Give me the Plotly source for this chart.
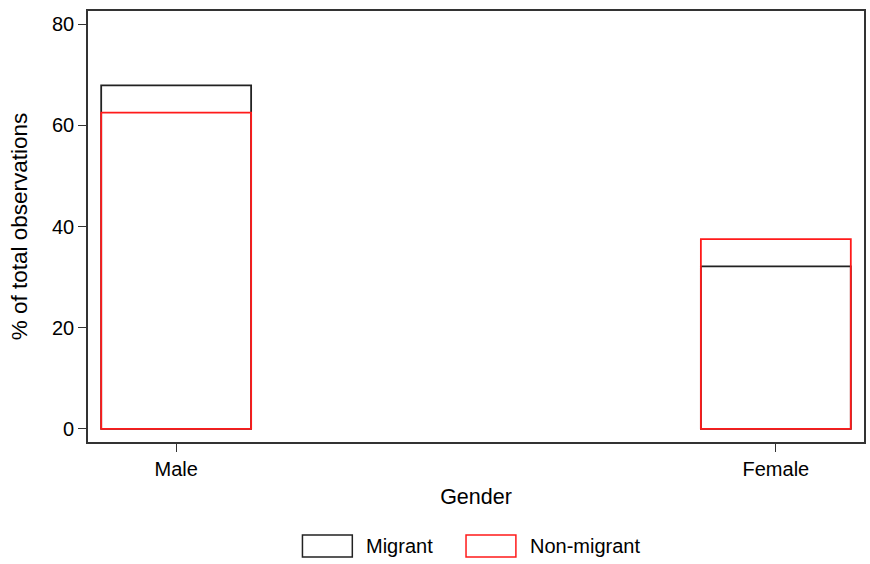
import plotly.graph_objects as go

categories = ["Male", "Female"]
migrant = [67.9, 32.1]
non_migrant = [62.5, 37.5]
series_names = ["Migrant", "Non-migrant"]
y_ticks = [0, 20, 40, 60, 80]

FONT = "Liberation Sans, Arial, Helvetica, sans-serif"

fig = go.Figure()
fig.add_trace(go.Bar(x=categories, y=migrant, name=series_names[0], width=0.25,
                     marker=dict(color="rgba(0,0,0,0)", line=dict(color="#222222", width=1.8)),
                     showlegend=False))
fig.add_trace(go.Bar(x=categories, y=non_migrant, name=series_names[1], width=0.25,
                     marker=dict(color="rgba(0,0,0,0)", line=dict(color="#ff1a1a", width=1.8)),
                     showlegend=False))

fig.update_layout(
    width=870, height=564,
    barmode="overlay",
    plot_bgcolor="white", paper_bgcolor="white",
    margin=dict(l=88, r=4, t=11, b=122),
    font=dict(family=FONT, size=20, color="black"),
    showlegend=False,
)
fig.update_xaxes(type="category", range=[-0.147, 1.147], showline=True, mirror=True,
                 linecolor="#333333", linewidth=1.6, ticks="outside", ticklen=8,
                 tickcolor="#333333", tickwidth=1.2, showgrid=False,
                 title=dict(text="Gender", font=dict(size=21.5), standoff=10),
                 tickfont=dict(size=20))
fig.update_yaxes(range=[-2.6, 82.6], tickvals=y_ticks, showline=True, mirror=True,
                 linecolor="#333333", linewidth=1.6, ticks="outside", ticklen=8,
                 tickcolor="#333333", tickwidth=1.2, showgrid=False, zeroline=False,
                 title=dict(text="% of total observations", font=dict(size=22.5), standoff=18),
                 tickfont=dict(size=20))

# legend drawn manually (wide rectangular keys)
PW, PH, PL, PB = 778, 431, 88, 442
legend_items = [(series_names[0], "#222222", 303, 353, 365), (series_names[1], "#ff1a1a", 467, 517, 529)]
for name, col, x0, x1, xt in legend_items:
    fig.add_shape(type="rect", xref="paper", yref="paper",
                  x0=(x0 - PL) / PW, x1=(x1 - PL) / PW,
                  y0=(PB - 557) / PH, y1=(PB - 535) / PH,
                  line=dict(color=col, width=1.5), fillcolor="white")
    fig.add_annotation(xref="paper", yref="paper", x=(xt - PL) / PW, y=(PB - 546) / PH,
                       text=name, showarrow=False, xanchor="left", yanchor="middle",
                       font=dict(size=20, family=FONT))

fig.write_html("out.html", config={"displayModeBar": False},
               post_script="document.body.style.margin='0';document.body.style.overflow='hidden';")
